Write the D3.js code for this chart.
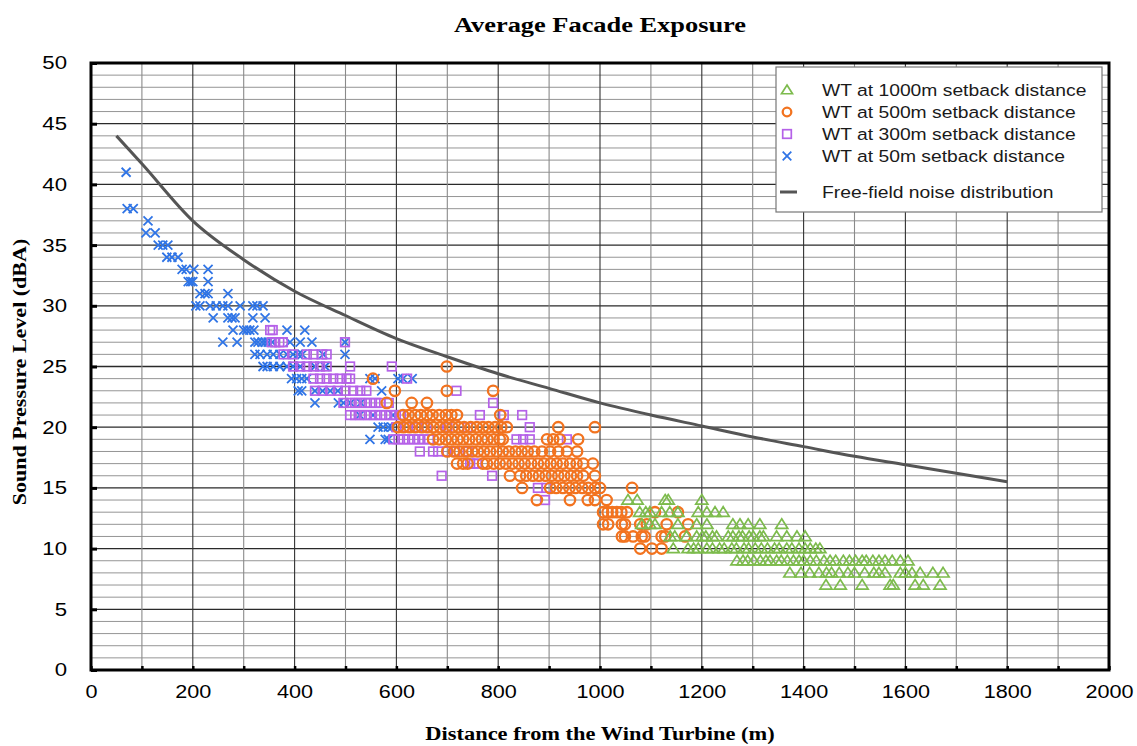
<!DOCTYPE html>
<html><head><meta charset="utf-8">
<script src="https://cdn.jsdelivr.net/npm/d3@7"></script>
<style>body{margin:0;background:#fff} svg{display:block}</style>
</head><body><svg id="c" width="1137" height="746"></svg>
<script>
// ---------- data ----------
const xTicks = [0,100,200,300,400,500,600,700,800,900,1000,1100,1200,1300,1400,1500,1600,1700,1800,1900,2000];
const yTicks = [0,5,10,15,20,25,30,35,40,45,50];
const seriesNames = ["WT at 1000m setback distance","WT at 500m setback distance","WT at 300m setback distance","WT at 50m setback distance"];
const curveName = "Free-field noise distribution";
const curveDistance = [50,100,200,300,400,500,600,700,800,900,1000,1100,1200,1300,1400,1500,1600,1700,1800];
const curveLevel = [44,41.7,37,33.8,31.2,29.2,27.3,25.8,24.4,23.2,22,21,20.1,19.2,18.4,17.6,16.9,16.2,15.5];

// each row: [level dBA, [distances m]]
const wt50 = [
 [41,[69]],[38,[71,83]],[37,[112]],[36,[108,126]],[35,[132,141,151]],[34,[149,159,171]],
 [33,[179,187,202,230]],[32,[191,196,200,230]],[31,[214,224,230,269]],
 [30,[206,214,234,246,259,269,293,318,326,338]],[29,[240,269,277,283,318,342]],
 [28,[279,300,306,312,320,385,420]],[27,[259,287,322,328,336,342,348,356,391,411,434,499]],
 [26,[322,332,346,358,371,385,397,407,415,456,499]],[25,[338,346,358,371,385,397,411,440,460]],
 [24,[394,404,414,424,548,558,603,613,631]],[23,[407,414,440,455,470,485,571]],
 [22,[440,486,496,510,530]],[21,[528,554,593]],[20,[564,574,584,591]],[19,[548,578,584]]
];
const wt300 = [
 [28,[352,357]],[27,[355,362,370,377,499]],[26,[378,397,424,437,453,463]],
 [25,[397,411,424,437,450,463,509,591]],[24,[437,450,463,476,489,502,509,621]],
 [23,[440,455,470,485,500,515,529,541,718]],[22,[496,509,519,529,539,549,559,569,585,790]],
 [21,[509,519,529,539,549,559,569,579,589,599,609,764,811,847]],[20,[600,620,640,660,700,740,862]],
 [19,[594,604,614,624,634,644,654,664,836,849,862,935]],[18,[646,672,682,700,715,740]],
 [17,[745,752,758]],[16,[689,788]],[15,[878,895]],[14,[892]]
];
const wt500 = [
 [25,[699]],[24,[554]],[23,[597,699,790]],[22,[581,630,660]],
 [21,[613,624,637,648,660,671,684,697,708,719,804]],
 [20,[603,614,626,637,650,661,673,686,697,710,722,733,746,758,770,781,794,806,817,918,990]],
 [19,[672,684,697,708,720,731,743,756,768,779,791,803,809,896,908,921,957]],
 [18,[700,713,724,737,749,760,772,784,797,809,821,834,846,858,871,886,902,918,935,955]],
 [17,[719,731,740,770,778,791,803,815,828,840,852,865,878,890,903,915,927,941,954,967,986]],
 [16,[823,843,855,868,880,893,905,918,930,943,955,967,990]],
 [15,[847,902,914,927,940,952,965,977,990,1000,1063]],[14,[876,941,976,990,1013]],
 [13,[1006,1015,1024,1033,1042,1053,1108,1153]],[12,[1006,1016,1043,1049,1079,1092,1131,1173]],
 [11,[1043,1049,1065,1082,1088,1121,1128,1167]],[10,[1079,1102,1121]]
];
const wt1000 = [
 [14,[1055,1073,1128,1134,1200]],
 [13,[1078,1090,1098,1121,1137,1153,1193,1210,1226,1242]],
 [12,[1082,1098,1108,1153,1190,1210,1261,1275,1291,1314,1357]],
 [11,[1138,1147,1170,1190,1201,1208,1221,1229,1252,1261,1273,1280,1293,1301,1314,1321,1347,1367,1387,1403]],
 [10,[1144,1173,1184,1193,1210,1221,1235,1244,1259,1268,1283,1292,1305,1317,1329,1343,1352,1367,1377,1391,1403,1413,1424,1432]],
 [9,[1269,1281,1290,1302,1315,1326,1334,1347,1356,1368,1380,1391,1400,1413,1425,1440,1452,1463,1478,1490,1502,1515,1523,1536,1548,1560,1574,1590,1605]],
 [8,[1373,1395,1412,1430,1445,1455,1470,1487,1500,1520,1538,1548,1560,1590,1600,1613,1629,1654,1674]],
 [7,[1444,1472,1515,1570,1576,1619,1635,1668]]
];

// ---------- chart ----------
const svg = d3.select("#c");
const x = d3.scaleLinear().domain([0,2000]).range([91,1109]);
const y = d3.scaleLinear().domain([0,50]).range([670,63]);

const flat = rows => rows.flatMap(([lv, ds]) => ds.map(d => ({d, lv})));

// grid
const g = svg.append("g");
g.selectAll(".hy").data(d3.range(1,50)).join("line")
 .attr("x1", x(0)).attr("x2", x(2000)).attr("y1", d=>y(d)).attr("y2", d=>y(d))
 .attr("stroke", d => d%5===0 ? "#2a2a2a" : "#959595").attr("stroke-width", d => d%5===0 ? 1.3 : 1);
g.selectAll(".vx").data(xTicks.slice(1,-1)).join("line")
 .attr("y1", y(0)).attr("y2", y(50)).attr("x1", d=>x(d)).attr("x2", d=>x(d))
 .attr("stroke", d => d%200===0 ? "#333" : "#8a8a8a").attr("stroke-width", 1.1);

// axes
const font = "'Liberation Sans', Arial, Helvetica, sans-serif";
const ya = svg.append("g").attr("transform",`translate(${x(0)},0)`)
 .call(d3.axisLeft(y).tickValues(yTicks).tickSize(-6).tickPadding(24).tickFormat(d3.format("d")));
ya.select(".domain").remove();
ya.selectAll("line").attr("stroke","#000").attr("stroke-width",3);
ya.selectAll("text").attr("font-family",font).attr("font-size",18.5).attr("fill","#000")
 .attr("x",0).attr("transform","translate(-24,0) scale(1.2,1)");

const xa = svg.append("g").attr("transform",`translate(0,${y(0)})`)
 .call(d3.axisBottom(x).tickValues(xTicks).tickSize(-4).tickPadding(15).tickFormat(d => d%200===0 ? d : ""));
xa.select(".domain").remove();
xa.selectAll("line").attr("stroke","#000").attr("stroke-width",2.5);
xa.selectAll("text").attr("font-family",font).attr("font-size",18.5).attr("fill","#000")
 .attr("y",0).attr("transform","translate(0,15) scale(1.17,1)");

// curve
const line = d3.line().x(d=>x(d[0])).y(d=>y(d[1])).curve(d3.curveMonotoneX);
svg.append("path").datum(curveDistance.map((d,i)=>[d,curveLevel[i]]))
 .attr("d", line).attr("fill","none").attr("stroke","#555").attr("stroke-width",3);

// markers
const cBlue="#2f74e6", cPurple="#b561e8", cOrange="#f2731f", cGreen="#7dbb4d";
function cross(sel, s){ sel.append("path").attr("d",`M${-s},${-s}L${s},${s}M${-s},${s}L${s},${-s}`).attr("stroke",cBlue).attr("stroke-width",1.8).attr("fill","none"); }
function square(sel, s){ sel.append("rect").attr("x",-s).attr("y",-s).attr("width",2*s).attr("height",2*s).attr("stroke",cPurple).attr("stroke-width",1.7).attr("fill","none"); }
function circ(sel, s){ sel.append("circle").attr("r",s).attr("stroke",cOrange).attr("stroke-width",2.3).attr("fill","none"); }
function tri(sel, s){ sel.append("path").attr("d",`M0,${-s}L${s*1.1},${s*0.75}L${-s*1.1},${s*0.75}Z`).attr("stroke",cGreen).attr("stroke-width",1.7).attr("fill","none"); }

function plot(rows, fn, s){
 svg.append("g").selectAll("g").data(flat(rows)).join("g")
  .attr("transform", p => `translate(${x(p.d)},${y(p.lv)})`)
  .each(function(){ fn(d3.select(this), s); });
}
plot(wt50, cross, 4.5);
plot(wt300, square, 4.3);
plot(wt500, circ, 5.2);
plot(wt1000, tri, 5.5);

// border
svg.append("rect").attr("x",x(0)).attr("y",y(50)).attr("width",x(2000)-x(0)).attr("height",y(0)-y(50))
 .attr("fill","none").attr("stroke","#000").attr("stroke-width",3);

// stretched text helper
function stext(parent, tx, ty, txt, size, sx, opts={}){
 return parent.append("text").attr("transform",`translate(${tx},${ty}) ${opts.rot?`rotate(${opts.rot})`:""} scale(${sx},1)`)
  .attr("text-anchor",opts.anchor||"start").attr("dy",opts.dy||"0")
  .attr("font-family",opts.family||font).attr("font-weight",opts.weight||"normal")
  .attr("font-size",size).attr("fill",opts.fill||"#000").text(txt);
}

// legend
const lg = svg.append("g");
lg.append("rect").attr("x",776).attr("y",67).attr("width",326).attr("height",145)
 .attr("fill","#fff").attr("stroke","#777").attr("stroke-width",1.2);
const legFns = [tri, circ, square, cross];
const legY = [90,112,134,156];
seriesNames.forEach((n,i)=>{
 const gg = lg.append("g").attr("transform",`translate(787,${legY[i]})`);
 legFns[i](gg, i===0?5:4.3);
 stext(lg, 822, legY[i], n, 16.5, 1.17, {dy:"0.36em", fill:"#1a1a1a"});
});
lg.append("line").attr("x1",780).attr("x2",797).attr("y1",192).attr("y2",192).attr("stroke","#555").attr("stroke-width",3);
stext(lg, 822, 192, curveName, 16.5, 1.17, {dy:"0.36em", fill:"#1a1a1a"});

// titles
const serif = "'Liberation Serif', 'Times New Roman', serif";
stext(svg, 600, 32, "Average Facade Exposure", 22, 1.2, {anchor:"middle", family:serif, weight:"bold"});
stext(svg, 600, 740, "Distance from the Wind Turbine (m)", 19.5, 1.15, {anchor:"middle", family:serif, weight:"bold"});
stext(svg, 26, 372, "Sound Pressure Level (dBA)", 19.5, 1.13, {anchor:"middle", family:serif, weight:"bold", rot:-90});
</script></body></html>
